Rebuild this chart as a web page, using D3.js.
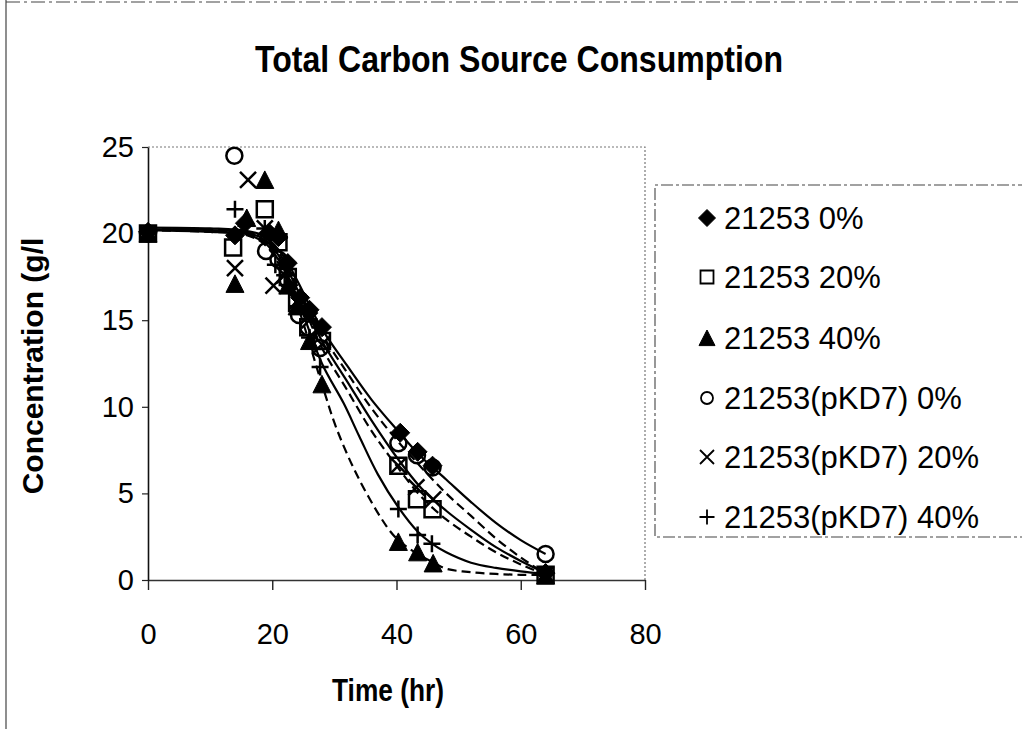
<!DOCTYPE html>
<html>
<head>
<meta charset="utf-8">
<script src="https://cdn.jsdelivr.net/npm/d3@7"></script>
<style>
  html, body { margin: 0; padding: 0; background: #fff; }
  svg { display: block; font-family: "Liberation Sans", Arial, sans-serif; }
</style>
</head>
<body>
<svg id="chart" width="1022" height="729"></svg>
<script>
// ---------------- DATA ----------------
const seriesNames = ["21253 0%", "21253 20%", "21253 40%", "21253(pKD7) 0%", "21253(pKD7) 20%", "21253(pKD7) 40%"];
const markerTypes = ["diamond", "square", "triangle", "circle", "times", "plus"];
const xTicks = [0, 20, 40, 60, 80];
const yTicks = [0, 5, 10, 15, 20, 25];

// measured points [time (hr), concentration (g/l)]
const pts21253_0  = [[0,20.1],[14,19.9],[15.6,20.6],[19.6,20.0],[21,19.8],[22.5,18.3],[24.5,16.3],[26,15.6],[28,14.6],[40.6,8.5],[43.4,7.4],[45.8,6.6],[64,0.4]];
const pts21253_20 = [[0,20.0],[13.7,19.2],[18.8,21.4],[21,19.5],[22.5,17.5],[24,16.0],[25.8,14.6],[28,13.8],[40.3,6.6],[43.3,4.66],[45.8,4.08],[64,0.3]];
const pts21253_40 = [[0,20.0],[14,17.1],[15.9,20.9],[18.8,23.1],[21,20.2],[22.5,17.0],[24,15.8],[26,13.8],[28,11.3],[40.3,2.2],[43.4,1.6],[45.9,0.96],[64,0.25]];
const ptsPKD7_0   = [[0,20.0],[13.9,24.5],[19,19.0],[21,18.5],[22.5,17.3],[24.3,15.3],[25.8,14.6],[27.7,13.4],[40.3,7.9],[43.3,7.2],[45.8,6.5],[64,1.5]];
const ptsPKD7_20  = [[0,20.0],[14,18.0],[16.1,23.1],[18.8,20.3],[20.2,17.0],[22,17.6],[24,16.1],[26,15.0],[28,13.6],[40.3,6.6],[43.2,5.35],[45.9,4.66],[64,0.3]];
const ptsPKD7_40  = [[0,20.0],[14,21.4],[18.8,20.3],[20.5,18.2],[22,17.6],[24,15.8],[26,14.0],[27.7,12.3],[40.3,4.1],[43.4,2.6],[45.7,2.1],[64,0.4]];

// smoothed trend lines [time, concentration]
const fit21253_0  = [[0,20.3],[10,20.25],[16,20.1],[19,19.7],[22,18.4],[24,17.0],[28,14.2],[32,12.0],[36,9.9],[40,8.1],[44,6.5],[48,5.0],[52,3.7],[56,2.4],[60,1.3],[64,0.35]];
const fit21253_20 = [[0,20.2],[10,20.15],[16,20.0],[19,19.5],[22,18.0],[24,16.6],[28,13.4],[32,11.0],[36,8.6],[40,6.6],[44,4.8],[48,3.5],[52,2.5],[56,1.6],[60,0.9],[64,0.3]];
const fit21253_40 = [[0,20.2],[10,20.1],[16,19.9],[19,19.3],[22,17.6],[24,15.9],[28,11.3],[30.4,8.7],[34,5.8],[38.4,3.1],[40.3,2.3],[43.4,1.5],[46,1.0],[48,0.65],[52,0.45],[56,0.35],[60,0.3],[64,0.3]];
const fitPKD7_0   = [[0,20.35],[10,20.3],[16,20.15],[19,19.8],[22,18.6],[24,17.3],[28,14.5],[32,12.4],[36,10.4],[40,8.7],[44,7.1],[48,5.8],[52,4.5],[56,3.3],[60,2.3],[64,1.5]];
const fitPKD7_20  = [[0,20.25],[10,20.2],[16,20.05],[19,19.6],[22,18.2],[24,16.8],[28,13.8],[32,11.5],[36,9.2],[40,7.1],[44,5.3],[48,4.0],[52,2.9],[56,1.9],[60,1.1],[64,0.4]];
const fitPKD7_40  = [[0,20.2],[10,20.1],[16,19.95],[19,19.4],[22,17.9],[24,16.3],[28,12.5],[31.5,10.2],[34,8.3],[37,6.1],[40.3,4.2],[43.4,2.8],[45.7,2.1],[48,1.6],[52,1.0],[56,0.7],[60,0.5],[64,0.35]];

const seriesPoints = [pts21253_0, pts21253_20, pts21253_40, ptsPKD7_0, ptsPKD7_20, ptsPKD7_40];
const seriesFits   = [fit21253_0, fit21253_20, fit21253_40, fitPKD7_0, fitPKD7_20, fitPKD7_40];
const fitDashed    = [true, true, true, false, false, false];

// ---------------- CHART ----------------
const svg = d3.select("#chart");
const W = 1022, H = 729;
const mLeft = 148, mRight = 645, mTop = 147, mBottom = 580;

const x = d3.scaleLinear().domain([0, 80]).range([mLeft, mRight]);
const y = d3.scaleLinear().domain([0, 25]).range([mBottom, mTop]);

svg.append("rect").attr("width", W).attr("height", H).attr("fill", "#fff");

// outer frame remnants
svg.append("line").attr("x1", 6).attr("x2", 6).attr("y1", 0).attr("y2", H)
  .attr("stroke", "#444").attr("stroke-width", 1.2);
svg.append("line").attr("x1", 6).attr("x2", 1018).attr("y1", 2).attr("y2", 2)
  .attr("stroke", "#444").attr("stroke-width", 1.2).attr("stroke-dasharray", "14,4,3,4");

// title
svg.append("text").attr("x", 519).attr("y", 72).attr("text-anchor", "middle")
  .attr("font-size", 37).attr("font-weight", "bold")
  .attr("textLength", 528).attr("lengthAdjust", "spacingAndGlyphs")
  .text("Total Carbon Source Consumption");

// plot frame (dotted top/right)
svg.append("path")
  .attr("d", `M${mLeft},${mTop}H${mRight}V${mBottom}`)
  .attr("fill", "none").attr("stroke", "#777").attr("stroke-width", 1.2)
  .attr("stroke-dasharray", "2,2");

// axes
const gx = svg.append("g").attr("transform", `translate(0,${mBottom})`)
  .call(d3.axisBottom(x).tickValues(xTicks).tickSize(10).tickSizeOuter(0).tickPadding(33));
gx.select(".domain").attr("stroke", "#333").attr("stroke-width", 1.6);
gx.selectAll(".tick line").attr("stroke", "#222").attr("stroke-width", 1.4);
gx.selectAll("text").attr("font-size", 29).attr("fill", "#000")
  .attr("font-family", "Liberation Sans, Arial, sans-serif");

const gy = svg.append("g").attr("transform", `translate(${mLeft},0)`)
  .call(d3.axisLeft(y).tickValues(yTicks).tickSize(6).tickSizeOuter(0).tickPadding(8));
gy.select(".domain").attr("stroke", "#111").attr("stroke-width", 1.6);
gy.selectAll(".tick line").attr("stroke", "#222").attr("stroke-width", 1.2);
gy.selectAll("text").attr("font-size", 29).attr("fill", "#000")
  .attr("font-family", "Liberation Sans, Arial, sans-serif");

// axis titles
svg.append("text").attr("x", 388).attr("y", 701).attr("text-anchor", "middle")
  .attr("font-size", 31).attr("font-weight", "bold")
  .attr("textLength", 112).attr("lengthAdjust", "spacingAndGlyphs")
  .text("Time (hr)");
svg.append("text").attr("transform", "translate(43,366) rotate(-90)")
  .attr("text-anchor", "middle").attr("font-size", 30).attr("font-weight", "bold")
  .text("Concentration (g/l");

// trend lines
const line = d3.line().x(d => x(d[0])).y(d => y(d[1])).curve(d3.curveCatmullRom.alpha(0.5));
seriesFits.forEach((f, i) => {
  svg.append("path").datum(f).attr("d", line)
    .attr("fill", "none").attr("stroke", "#000").attr("stroke-width", 2.2)
    .attr("stroke-dasharray", fitDashed[i] ? "9,5" : null);
});

// markers
function markerPath(type, s) {
  const h = s / 2;
  switch (type) {
    case "diamond": return `M0,${-h}L${h},0L0,${h}L${-h},0Z`;
    case "square": return `M${-h},${-h}H${h}V${h}H${-h}Z`;
    case "triangle": return `M0,${-h}L${h},${h * 0.95}L${-h},${h * 0.95}Z`;
    case "circle": return `M${h},0A${h},${h},0,1,1,${-h},0A${h},${h},0,1,1,${h},0Z`;
    case "times": return `M${-h},${-h}L${h},${h}M${-h},${h}L${h},${-h}`;
    case "plus": return `M${-h},0H${h}M0,${-h}V${h}`;
  }
}
function styleMarker(sel, type, sw) {
  const filled = type === "diamond" || type === "triangle";
  sel.attr("fill", filled ? "#000" : "none")
     .attr("stroke", "#000")
     .attr("stroke-width", filled ? 1 : sw);
}
const plotSizes = { diamond: 19, square: 16, triangle: 18, circle: 16, times: 16, plus: 17 };

seriesPoints.forEach((pts, i) => {
  const t = markerTypes[i];
  const g = svg.append("g");
  g.selectAll("path").data(pts).join("path")
    .attr("transform", d => `translate(${x(d[0])},${y(d[1])})`)
    .attr("d", markerPath(t, plotSizes[t]))
    .call(styleMarker, t, 2.5);
});

// legend
const legend = svg.append("g");
legend.append("path").attr("d", "M1030,185H655V537H1030")
  .attr("fill", "none").attr("stroke", "#444").attr("stroke-width", 1.1)
  .attr("stroke-dasharray", "12,3,3,3");
const legendY = [218, 277, 338, 398, 457, 517];
const legSizes = { diamond: 17, square: 13, triangle: 16, circle: 12, times: 14, plus: 15 };
seriesNames.forEach((name, i) => {
  const t = markerTypes[i];
  legend.append("path").attr("transform", `translate(707,${legendY[i]})`)
    .attr("d", markerPath(t, legSizes[t])).call(styleMarker, t, 1.8);
  legend.append("text").attr("x", 724).attr("y", legendY[i]).attr("dy", "0.36em")
    .attr("font-size", 31).text(name);
});
</script>
</body>
</html>
